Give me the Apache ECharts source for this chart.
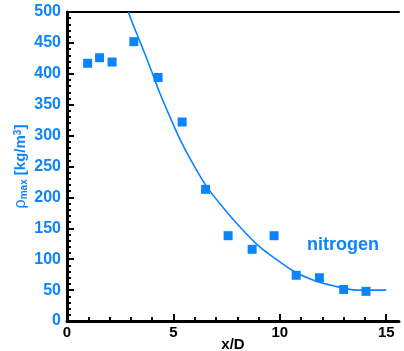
<!DOCTYPE html>
<html>
<head>
<meta charset="utf-8">
<script src="https://cdn.jsdelivr.net/npm/echarts@6/dist/echarts.min.js"></script>
<style>
  html, body { margin: 0; padding: 0; background: #fff; }
  #chart { width: 404px; height: 351px; }
</style>
</head>
<body>
<div id="chart"></div>
<script>
// measured points (x/D, rho_max)
var xPts = [0.97, 1.53, 2.12, 3.14, 4.28, 5.41, 6.51, 7.57, 8.7, 9.73, 10.77, 11.86, 13.0, 14.05];
var yPts = [417, 426, 419, 452, 394, 322, 213, 138, 116, 138, 74, 70, 51, 48];

// fitted curve
var curveX = [2.88, 3.1, 3.43, 3.9, 4.37, 4.84, 5.31, 5.94, 6.57, 7.35, 8.13, 8.92, 9.7, 10.64, 11.58, 12.52, 13.62, 15];
var curveY = [500, 480, 452, 411, 368, 330, 294, 253, 217, 183, 152, 124, 103, 81, 66, 57, 50, 50];

var xMajorTicks = [0, 5, 10, 15];
var xMinorTicks = [1, 2, 3, 4, 6, 7, 8, 9, 11, 12, 13, 14];

var blue = '#0a84ff';
var font = 'Liberation Sans, Arial, sans-serif';

var chart = echarts.init(document.getElementById('chart'));

function tickAxis(values, len) {
  return {
    type: 'value', position: 'bottom', min: 0, max: 15.6,
    axisLine: { show: false, onZero: false },
    axisTick: { show: true, inside: true, length: len, customValues: values, lineStyle: { color: '#000', width: 2 } },
    axisLabel: { show: false },
    splitLine: { show: false }
  };
}

chart.setOption({
  animation: false,
  grid: { left: 67, top: 12, right: 5, bottom: 30, containLabel: false, outerBoundsMode: 'none' },
  xAxis: [
    {
      type: 'value', position: 'bottom', min: 0, max: 15.6,
      name: 'x/D', nameLocation: 'middle', nameGap: 16, nameMoveOverlap: false,
      nameTextStyle: { color: '#000', fontWeight: 'bold', fontSize: 15, fontFamily: font },
      axisLine: { show: true, onZero: false, lineStyle: { color: '#000', width: 3 } },
      axisTick: { show: false },
      axisLabel: { customValues: xMajorTicks, color: '#000', fontWeight: 'bold', fontSize: 15, fontFamily: font, margin: 4 },
      splitLine: { show: false }
    },
    tickAxis(xMajorTicks, 7),
    tickAxis(xMinorTicks, 4),
    {
      type: 'value', position: 'top', min: 0, max: 15.6,
      axisLine: { show: true, onZero: false, lineStyle: { color: '#000', width: 2 } },
      axisTick: { show: false },
      axisLabel: { show: false },
      splitLine: { show: false }
    }
  ],
  yAxis: {
    type: 'value', min: 0, max: 500, interval: 50,
    name: '{rho|ρ}{sub|max}{u| [kg/m}{sup|3}{u|]}',
    nameLocation: 'middle', nameGap: 38, nameRotate: 90, nameMoveOverlap: false,
    nameTextStyle: {
      color: blue, fontFamily: font,
      rich: {
        rho: { fontSize: 16, color: blue, fontFamily: font, verticalAlign: 'middle' },
        sub: { fontSize: 10, color: blue, fontFamily: font, verticalAlign: 'bottom', fontWeight: 'bold' },
        u: { fontSize: 15, color: blue, fontFamily: font, fontWeight: 'bold', verticalAlign: 'middle' },
        sup: { fontSize: 10, color: blue, fontFamily: font, fontWeight: 'bold', verticalAlign: 'top' }
      }
    },
    axisLine: { show: true, lineStyle: { color: '#000', width: 3 } },
    axisTick: { show: true, inside: true, length: 7, lineStyle: { color: '#000', width: 2 } },
    minorTick: { show: true, splitNumber: 5, length: 4, lineStyle: { color: '#000', width: 2 } },
    axisLabel: { color: blue, fontWeight: 'bold', fontSize: 16, fontFamily: font, margin: 6 },
    splitLine: { show: false }
  },
  graphic: [
    {
      type: 'text', left: 307, top: 236,
      style: { text: 'nitrogen', fill: blue, font: 'bold 18px ' + font }
    }
  ],
  series: [
    {
      type: 'line',
      data: curveX.map(function (x, i) { return [x, curveY[i]]; }),
      smooth: 0.3,
      showSymbol: false,
      lineStyle: { color: blue, width: 1.6 },
      z: 2
    },
    {
      type: 'scatter',
      data: xPts.map(function (x, i) { return [x, yPts[i]]; }),
      symbol: 'rect',
      symbolSize: 9,
      itemStyle: { color: blue, opacity: 1 },
      z: 3
    }
  ]
});
</script>
</body>
</html>
